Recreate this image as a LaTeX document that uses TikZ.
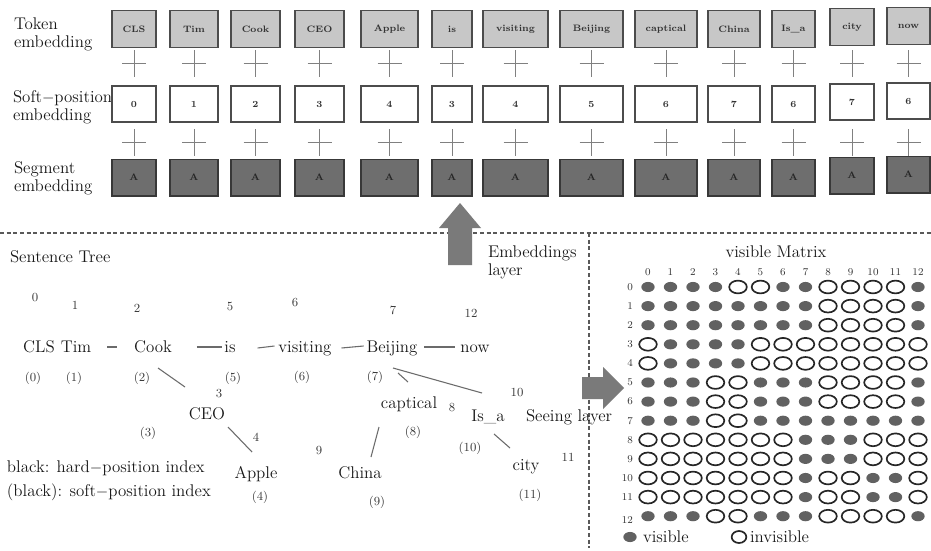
\documentclass[tikz,border=0pt]{standalone}
\usetikzlibrary{calc}
\newcommand\mfnt{\fontsize{12.7}{13.6}\selectfont}
\newcommand\ifnt{\fontsize{9.3}{10}\selectfont}
\newcommand\bfnt{\fontsize{7}{8}\selectfont\bfseries}
\newcommand\mnfnt{\fontsize{7.8}{8}\selectfont}
\begin{document}
\begin{tikzpicture}[x=0.75pt,y=-0.75pt,
  every node/.style={inner sep=0pt, outer sep=0pt},
  lbl/.style={font=\mfnt, text=black!90, align=left},
  word/.style={font=\mfnt, text=black!90, anchor=base},
  idx/.style={font=\ifnt, text=black!78},
  mnum/.style={font=\mnfnt, text=black!80},
  tokbox/.style={draw=black!70, line width=1pt, fill=black!22, font=\bfnt, text=black!80},
  posbox/.style={draw=black!70, line width=1pt, fill=white, font=\bfnt, text=black!80},
  segbox/.style={draw=black!78, line width=1pt, fill=black!57, font=\bfnt, text=black!85},
  plussign/.style={draw=black!50, line width=0.6pt},
  link/.style={draw=black!58, line width=0.8pt},
  sepline/.style={draw=black!65, line width=0.8pt, dash pattern=on 3pt off 2pt},
  bigarrow/.style={fill=black!52},
  dotfill/.style={fill=black!62},
  ring/.style={draw=black!85, line width=1.25pt}
]
\useasboundingbox (0,0) rectangle (931,550);
\fill[white] (0,0) rectangle (931,550);

% ---------- embedding rows ----------
\node[lbl, anchor=west] (ltok) at (14,34) {Token\\embedding};
\node[lbl, anchor=west] (lpos) at (13,107.5) {Soft$-$position\\embedding};
\node[lbl, anchor=west] (lseg) at (14,178.5) {Segment\\embedding};

\foreach \i/\l/\r/\dy/\tok/\sp in {
  0/112/156/0/CLS/0, 1/170/218/0/Tim/1, 2/231/280/0/Cook/2, 3/295/344/0/CEO/3,
  4/361/418/0/Apple/4, 5/432/472/0/is/3, 6/483/548/0/visiting/4, 7/560/623/0/Beijing/5,
  8/635/697/0/captical/6, 9/708/760/0/China/7, 10/772/815/0/Is\_a/6, 11/830/874/-2/city/7,
  12/887/930/-3/now/6}{
  \pgfmathsetmacro\w{(\r-\l)*0.75}
  \pgfmathsetmacro\cx{(\l+\r)/2}
  \node[tokbox, minimum width=\w pt, minimum height=28pt] (tok\i) at (\cx,29+\dy) {\tok};
  \node[posbox, minimum width=\w pt, minimum height=27pt] (pos\i) at (\cx,104+\dy) {\sp};
  \node[segbox, minimum width=\w pt, minimum height=27.5pt] (seg\i) at (\cx,177.5+\dy) {A};
  \draw[plussign] (\cx-12,63) -- (\cx+12,63) (\cx,50) -- (\cx,77);
  \draw[plussign] (\cx-12,142) -- (\cx+12,142) (\cx,129) -- (\cx,156);
}

% ---------- separators ----------
\draw[sepline] (0,233) -- (931,233);
\draw[sepline] (589,233) -- (589,548);

% ---------- block arrows ----------
\fill[bigarrow] (448,265) -- (448,228) -- (439,228) -- (460,203) -- (481,228) -- (472,228) -- (472,265) -- cycle;
\fill[bigarrow] (582,377) -- (603,377) -- (603,367) -- (624,388) -- (603,409) -- (603,399) -- (582,399) -- cycle;

\node[lbl, anchor=west] (emb) at (488,262.5) {Embeddings\\layer};
\node[lbl] (vm) at (776,252) {visible Matrix};

% ---------- sentence tree ----------
\node[lbl, anchor=west] (st) at (10,257) {Sentence Tree};

\node[word] (cls) at (39,352) {CLS};
\node[word] (tim) at (76,352) {Tim};
\node[word] (cook) at (153,352) {Cook};
\node[word] (is) at (230,352) {is};
\node[word] (visiting) at (305,352) {visiting};
\node[word] (beijing) at (392,352) {Beijing};
\node[word] (now) at (475,352) {now};
\node[word] (ceo) at (207,419) {CEO};
\node[word] (apple) at (256,478) {Apple};
\node[word] (captical) at (409,408) {captical};
\node[word] (china) at (360,478) {China};
\node[word] (isa) at (488,421) {Is\_a};
\node[word] (city) at (526,470) {city};
\node[word, anchor=base west] (seeing) at (526,421) {Seeing layer};

\draw[link] ([shift={(16,-5)}]tim.base east) -- ([shift={(-17,-5)}]cook.base west);
\draw[link] ([shift={(25,-5)}]cook.base east) -- ([shift={(-2,-5)}]is.base west);
\draw[link] ([shift={(22,-4)}]is.base east) -- ([shift={(-4,-6)}]visiting.base west);
\draw[link] ([shift={(10,-4)}]visiting.base east) -- ([shift={(-3,-6)}]beijing.base west);
\draw[link] ([shift={(7,-5)}]beijing.base east) -- ([shift={(-5,-5)}]now.base west);
\draw[link] ([shift={(5,16)}]cook.base) -- ([shift={(-22,-32)}]ceo.base);
\draw[link] ([shift={(21,8)}]ceo.base) -- ([shift={(-4,-26)}]apple.base);
\draw[link] ([shift={(1,16)}]beijing.base) -- ([shift={(-6,-28)}]isa.base);
\draw[link] ([shift={(6,21)}]beijing.base) -- ([shift={(-1,-26)}]captical.base);
\draw[link] ([shift={(-30,19)}]captical.base) -- ([shift={(11,-21)}]china.base);
\draw[link] ([shift={(6,13)}]isa.base) -- ([shift={(-16,-22)}]city.base);

% hard-position indices
\foreach \n/\x/\y in {0/35/298, 1/75/305, 2/137/308, 5/230/307, 6/295/303, 7/393/310,
  12/471/313, 3/219/394, 4/256/437, 8/452/407, 9/319/450, 10/517/392, 11/568/457}
  \node[idx] (h\n) at (\x,\y) {\n};
% soft-position indices
\foreach \n/\x/\y in {0/33/378, 1/74/378, 2/142/378, 5/233/378, 6/302/377, 7/375/377,
  3/148/433, 4/260/497, 8/413/432, 9/377/502, 10/470/448, 11/530/495}
  \node[idx] (s\n) at (\x,\y) {(\n)};

\node[lbl, anchor=west] (leg1) at (7,468) {black: hard$-$position index};
\node[lbl, anchor=west] (leg2) at (7,492) {(black): soft$-$position index};

% ---------- visible matrix ----------
\foreach \j in {0,...,12}{
  \pgfmathsetmacro\mx{648+22.5*\j}
  \node[mnum] (c\j) at (\mx,272) {\j};
}
\foreach \row [count=\i from 0] in {
  {1,1,1,1,0,0,1,1,0,0,0,0,1},
  {1,1,1,1,1,1,1,1,0,0,0,0,1},
  {1,1,1,1,1,1,1,1,0,0,0,0,1},
  {0,1,1,1,1,0,0,0,0,0,0,0,0},
  {0,1,1,1,1,0,0,0,0,0,0,0,0},
  {1,1,1,0,0,1,1,1,0,0,0,0,1},
  {1,1,1,0,0,1,1,1,0,0,0,0,1},
  {1,1,1,0,0,1,1,1,1,1,1,1,1},
  {0,0,0,0,0,0,0,1,1,1,0,0,0},
  {0,0,0,0,0,0,0,1,1,1,0,0,0},
  {0,0,0,0,0,0,0,1,0,0,1,1,0},
  {0,0,0,0,0,0,0,1,0,0,1,1,0},
  {1,1,1,0,0,1,1,1,0,0,0,0,1}}{
  \pgfmathsetmacro\my{287+19.1*\i}
  \ifnum\i=12
    \node[mnum, anchor=east] (r\i) at (633,\my+4) {\i};
  \else
    \node[mnum, anchor=east] (r\i) at (633,\my) {\i};
  \fi
  \foreach \v [count=\j from 0] in \row {
    \pgfmathsetmacro\mx{648+22.5*\j}
    \ifnum\v=1
      \fill[dotfill] (\mx,\my) ellipse [x radius=5pt, y radius=3.8pt];
    \else
      \draw[ring] (\mx,\my) ellipse [x radius=6.6pt, y radius=4.8pt];
    \fi
  }
}
\fill[dotfill] (630,537) ellipse [x radius=5pt, y radius=3.8pt];
\node[lbl, anchor=west] (lvis) at (643,537) {visible};
\draw[ring] (739,537) ellipse [x radius=5.5pt, y radius=4.5pt];
\node[lbl, anchor=west] (linv) at (750,537) {invisible};
\end{tikzpicture}
\end{document}
